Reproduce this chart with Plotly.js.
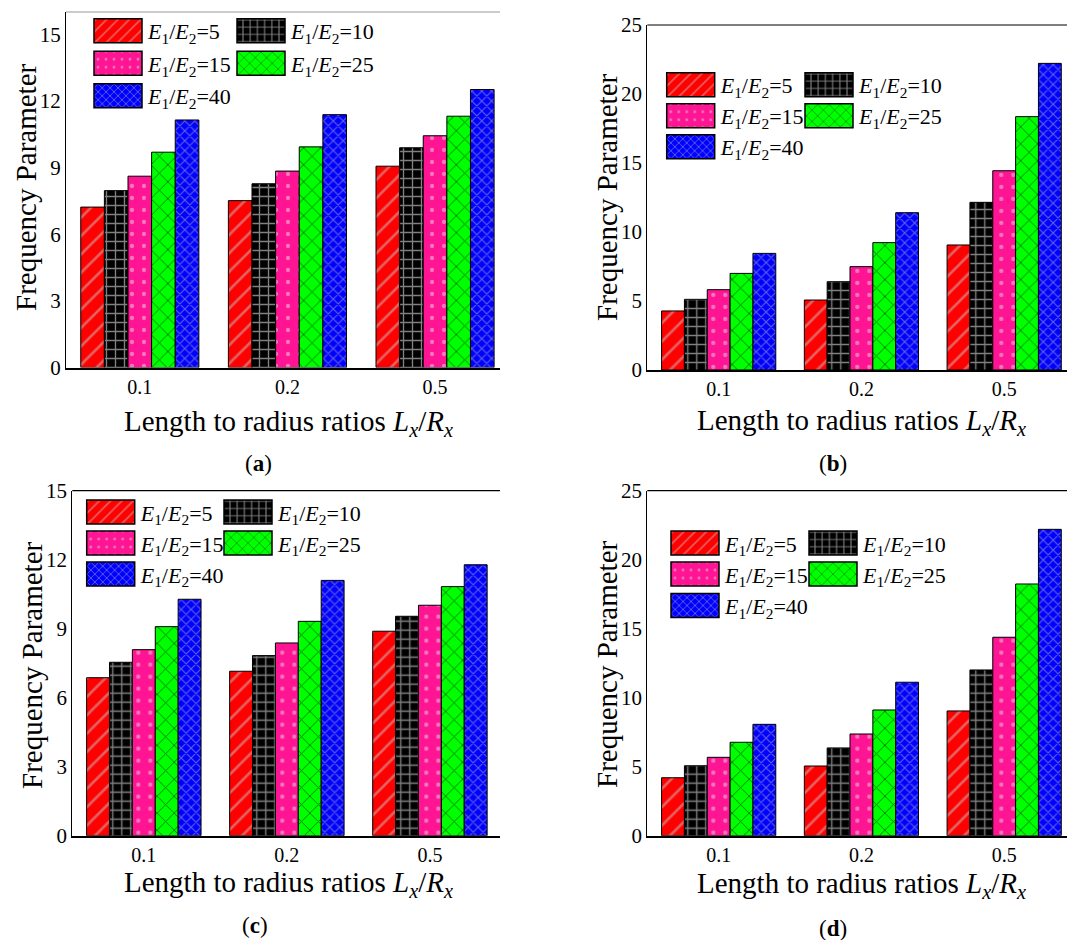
<!DOCTYPE html>
<html>
<head>
<meta charset="utf-8">
<script src="https://cdn.plot.ly/plotly-3.0.1.min.js"></script>
<style>
  html, body { margin: 0; padding: 0; background: #ffffff; }
  #chart { width: 1067px; height: 940px; }
</style>
</head>
<body>
<div id="chart"></div>
<script>
// ---------------- data ----------------
const categories = ['0.1', '0.2', '0.5'];
const seriesLabels = [
  '<i>E</i><sub>1</sub>/<i>E</i><sub>2</sub>=5',
  '<i>E</i><sub>1</sub>/<i>E</i><sub>2</sub>=10',
  '<i>E</i><sub>1</sub>/<i>E</i><sub>2</sub>=15',
  '<i>E</i><sub>1</sub>/<i>E</i><sub>2</sub>=25',
  '<i>E</i><sub>1</sub>/<i>E</i><sub>2</sub>=40'
];

// panel (a)
const a5  = [7.22, 7.51, 9.06];
const a10 = [7.96, 8.27, 9.89];
const a15 = [8.61, 8.84, 10.43];
const a25 = [9.69, 9.93, 11.31];
const a40 = [11.14, 11.38, 12.51];
// panel (b)
const b5  = [4.28, 5.07, 9.06];
const b10 = [5.12, 6.40, 12.15];
const b15 = [5.82, 7.49, 14.44];
const b25 = [7.00, 9.23, 18.36];
const b40 = [8.45, 11.40, 22.22];
// panel (c)
const c5  = [6.87, 7.15, 8.89];
const c10 = [7.54, 7.83, 9.54];
const c15 = [8.09, 8.38, 10.02];
const c25 = [9.09, 9.32, 10.83];
const c40 = [10.28, 11.10, 11.78];
// panel (d)
const d5  = [4.20, 5.05, 9.04];
const d10 = [5.07, 6.36, 12.01];
const d15 = [5.68, 7.37, 14.38];
const d25 = [6.77, 9.11, 18.24];
const d40 = [8.07, 11.12, 22.20];

const yTicksAC = [0, 3, 6, 9, 12, 15];
const yTicksBD = [0, 5, 10, 15, 20, 25];
const xTitle = 'Length to radius ratios <i>L</i><sub><i>x</i></sub>/<i>R</i><sub><i>x</i></sub>';
const yTitle = 'Frequency Parameter';
const panelLabels = ['(<b>a</b>)', '(<b>b</b>)', '(<b>c</b>)', '(<b>d</b>)'];

// ---------------- styling ----------------
const W = 1067, H = 940;
const FONT = "'Liberation Serif', 'Times New Roman', Times, serif";
const styles = [
  { color: '#ff0000', pattern: { shape: '/', fgcolor: '#c4c4c4', bgcolor: '#ff0000', size: 13, solidity: 0.2, fillmode: 'overlay' } },
  { color: '#000000', pattern: { shape: '+', fgcolor: '#ffffff', bgcolor: '#000000', size: 9, solidity: 0.28, fillmode: 'overlay' } },
  { color: '#ff1493', pattern: { shape: '.', fgcolor: '#e0e0e0', bgcolor: '#ff1493', size: 12, solidity: 0.1, fillmode: 'overlay' } },
  { color: '#00ff00', pattern: { shape: 'x', fgcolor: '#000000', bgcolor: '#00ff00', size: 12, solidity: 0.15, fillmode: 'overlay' } },
  { color: '#0000ff', pattern: { shape: 'x', fgcolor: '#c0c0c0', bgcolor: '#0000ff', size: 7, solidity: 0.3, fillmode: 'overlay' } }
];

const panels = [
  { series: [a5, a10, a15, a25, a40], xa: 'x',  ya: 'y',
    dx: [66, 500], dy: [12, 367.5], yr: [0, 16], xr: [-0.5, 2.44], ticks: yTicksAC, topColor: '#9a9a9a',
    leg: { cols: [94, 237], rows: [31, 63.5, 96] },
    xt: [288, 423], yt: [26, 187], lab: [258, 463] },
  { series: [b5, b10, b15, b25, b40], xa: 'x2', ya: 'y2',
    dx: [647.3, 1067], dy: [25, 370], yr: [0, 25], xr: [-0.5, 2.44], ticks: yTicksBD, topColor: '#000000',
    leg: { cols: [666.7, 805], rows: [85, 116, 147] },
    xt: [861, 422], yt: [607, 197], lab: [833, 463] },
  { series: [c5, c10, c15, c25, c40], xa: 'x3', ya: 'y3',
    dx: [72.3, 500], dy: [490.7, 835.7], yr: [0, 15], xr: [-0.5, 2.49], ticks: yTicksAC, topColor: '#000000',
    leg: { cols: [86.7, 224], rows: [512.3, 543.3, 574.3] },
    xt: [288, 884], yt: [32, 665], lab: [255, 925] },
  { series: [d5, d10, d15, d25, d40], xa: 'x4', ya: 'y4',
    dx: [647.3, 1067], dy: [490.7, 835.7], yr: [0, 25], xr: [-0.5, 2.44], ticks: yTicksBD, topColor: '#000000',
    leg: { cols: [671, 809], rows: [543.3, 574.3, 605.7] },
    xt: [861, 885], yt: [607, 664], lab: [833, 928] }
];

// legend slot of each series: [col, row]
const legendSlots = [[0, 0], [1, 0], [0, 1], [1, 1], [0, 2]];

const data = [];
const layout = {
  width: W, height: H,
  margin: { l: 0, r: 0, t: 0, b: 0 },
  paper_bgcolor: '#ffffff', plot_bgcolor: '#ffffff',
  font: { family: FONT, color: '#000000' },
  barmode: 'group', bargap: 0.2, bargroupgap: 0,
  showlegend: true,
  shapes: [], annotations: []
};

let legendIndex = 0;
panels.forEach((p, pi) => {
  const axN = pi === 0 ? '' : String(pi + 1);
  p.series.forEach((vals, si) => {
    legendIndex += 1;
    const legName = legendIndex === 1 ? 'legend' : 'legend' + legendIndex;
    data.push({
      type: 'bar', x: categories, y: vals, name: seriesLabels[si],
      xaxis: p.xa, yaxis: p.ya, legend: legName, showlegend: true,
      marker: { color: styles[si].color, pattern: styles[si].pattern, line: { color: '#000000', width: 1 } },
      hoverinfo: 'skip'
    });
    const slot = legendSlots[si];
    layout[legName] = {
      x: (p.leg.cols[slot[0]] - 6) / W, y: 1 - p.leg.rows[slot[1]] / H,
      xanchor: 'left', yanchor: 'middle', orientation: 'v',
      bgcolor: 'rgba(0,0,0,0)', borderwidth: 0, itemwidth: 50,
      font: { family: FONT, size: 22, color: '#000000' },
      itemclick: false, itemdoubleclick: false
    };
  });
  layout['xaxis' + axN] = {
    domain: [p.dx[0] / W, p.dx[1] / W], anchor: p.ya, type: 'category',
    range: p.xr, showgrid: false, zeroline: false,
    showline: true, linecolor: '#000000', linewidth: 2, ticks: '',
    tickfont: { family: FONT, size: 20, color: '#000000' }
  };
  layout['yaxis' + axN] = {
    domain: [1 - p.dy[1] / H, 1 - p.dy[0] / H], anchor: p.xa,
    range: p.yr, tickvals: p.ticks, showgrid: false, zeroline: false,
    showline: true, linecolor: '#000000', linewidth: 1, ticks: '',
    tickfont: { family: FONT, size: 21, color: '#000000' }
  };
  layout.shapes.push({
    type: 'line', xref: p.xa + ' domain', yref: p.ya + ' domain',
    x0: 0, x1: 1, y0: 1, y1: 1, line: { color: p.topColor, width: 1.2 }
  });
  layout.annotations.push({
    xref: 'paper', yref: 'paper', x: p.xt[0] / W, y: 1 - p.xt[1] / H,
    xanchor: 'center', yanchor: 'middle', showarrow: false, text: xTitle,
    font: { family: FONT, size: 29, color: '#000000' }
  });
  layout.annotations.push({
    xref: 'paper', yref: 'paper', x: p.yt[0] / W, y: 1 - p.yt[1] / H,
    xanchor: 'center', yanchor: 'middle', showarrow: false, text: yTitle, textangle: -90,
    font: { family: FONT, size: 29, color: '#000000' }
  });
  layout.annotations.push({
    xref: 'paper', yref: 'paper', x: p.lab[0] / W, y: 1 - p.lab[1] / H,
    xanchor: 'center', yanchor: 'middle', showarrow: false, text: panelLabels[pi],
    font: { family: FONT, size: 23, color: '#000000' }
  });
});

Plotly.newPlot('chart', data, layout, { staticPlot: true, displayModeBar: false }).then(gd => {
  // enlarge the legend swatches to the wide rectangles of the original figure
  gd.querySelectorAll('g.legendpoints path').forEach(el => {
    el.setAttribute('d', 'M24,12H-24V-12H24Z');
    el.style.strokeWidth = '1.5px';
    el.style.stroke = '#000000';
  });
});
</script>
</body>
</html>
